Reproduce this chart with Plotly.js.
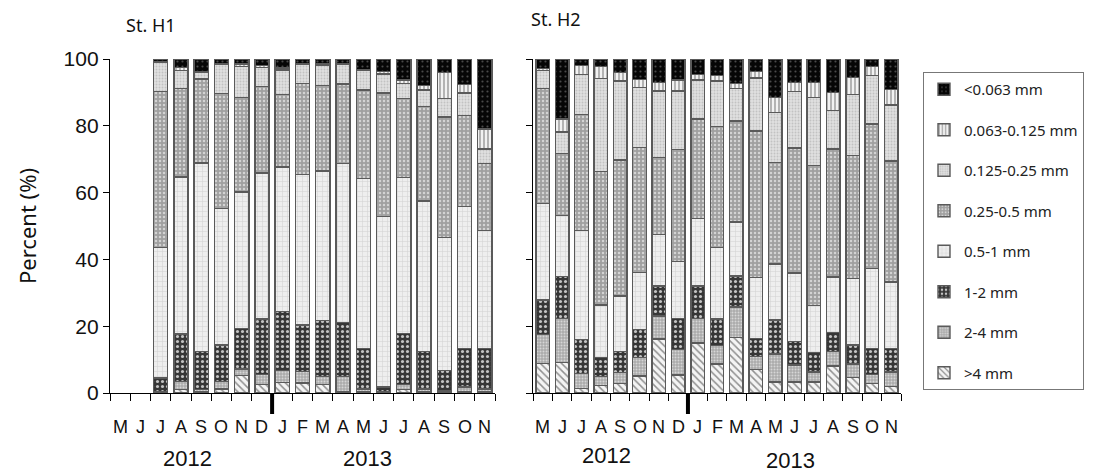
<!DOCTYPE html>
<html><head><meta charset="utf-8">
<script src="https://cdn.plot.ly/plotly-3.0.1.min.js"></script>
<style>html,body{margin:0;padding:0;background:#fff}#chart{width:1102px;height:472px}</style>
</head><body><div id="chart"></div>
<script>
const months = ["M","J","J","A","S","O","N","D","J","F","M","A","M","J","J","A","S","O","N"];
const years = ["2012","2013"];
const sizeClasses = [">4 mm","2-4 mm","1-2 mm","0.5-1 mm","0.25-0.5 mm","0.125-0.25 mm","0.063-0.125 mm","<0.063 mm"];

// St. H1 (May 2012 - Nov 2013), percent
const h1_gt4      = [null,null,0,1,0.5,1.2,5.2,2.5,3.2,3,2.5,0.5,0.5,0.3,1,0.5,0.3,0.5,0.5];
const h1_2_4      = [null,null,0.5,2.5,0.5,2.3,2,3,3.6,3.5,2.5,4.5,0.7,0.2,1.5,0.7,0.5,1.3,0.7];
const h1_1_2      = [null,null,4,14.2,11.4,10.9,12.2,16.6,17.6,13.9,16.7,16.1,12.2,1.3,15.4,11.2,6.0,11.6,12.2];
const h1_05_1     = [null,null,39.1,47,56.5,40.8,40.8,43.8,43.3,45,44.8,47.6,50.8,51.1,46.6,45.1,39.8,42.5,35.2];
const h1_025_05   = [null,null,46.7,26.5,25.1,34.4,28.2,25.8,21.7,27.3,25.5,23.8,26.5,36.9,23.6,28.3,36.0,27.2,20.1];
const h1_0125_025 = [null,null,8.7,5.3,2.0,8.7,9.4,5.8,7.3,5.6,6,5.8,5.8,5.7,4.6,4.9,5.5,6.7,4.4];
const h1_0063_0125= [null,null,0.3,1,0.3,0.4,0.7,0.5,0.6,0.4,0.5,0.2,0.3,0.8,1.0,1.3,7.9,2.5,6.0];
const h1_lt0063   = [null,null,0.7,2.5,3.7,1.3,1.5,2,2.7,1.3,1.5,1.5,3.2,3.7,6.3,8.0,4.0,7.7,20.9];

// St. H2 (May 2012 - Nov 2013), percent
const h2_gt4      = [8.9,9.1,1.3,2.3,2.8,5.1,16.2,5.4,15,8.7,16.7,7.0,3.3,3.3,3.3,8.1,4.6,2.8,2.0];
const h2_2_4      = [8.6,13.2,4.6,2.6,3.3,5.6,6.9,7.6,7.3,5.5,9.1,3.9,8.4,5.1,3.0,4.3,4.1,2.8,4.3];
const h2_1_2      = [10.4,12.6,10.1,5.8,6.3,8.3,8.9,9.3,9.7,7.9,9.2,5.4,10.1,7.0,5.8,5.7,5.7,7.8,7.1];
const h2_05_1     = [28.9,18.2,32.6,15.6,16.7,17,15.4,17,20.2,21.4,16.2,18.2,16.8,20.5,14.1,16.6,19.8,23.9,19.8];
const h2_025_05   = [34.3,18.6,34.7,40.0,40.7,37.5,23.2,33.6,29.8,36.3,30.2,44.0,30.5,37.4,41.9,38.4,36.9,43.3,36.3];
const h2_0125_025 = [5.4,6.5,12.1,27.8,23.6,17.9,19.8,17.5,11.7,13.6,9.8,15.8,14.8,16.9,20.3,11.5,18.3,14.4,16.7];
const h2_0063_0125= [0.7,3.8,2.6,3.7,2.6,2.5,2.5,3.3,1.7,1.7,1.4,2.0,4.5,2.7,4.5,5.3,5.1,2.7,4.7];
const h2_lt0063   = [2.8,18.0,2.0,2.2,4.0,6.1,7.1,6.3,4.6,4.9,7.4,3.7,11.6,7.1,7.1,10.1,5.5,2.3,9.1];

const h1 = [h1_gt4,h1_2_4,h1_1_2,h1_05_1,h1_025_05,h1_0125_025,h1_0063_0125,h1_lt0063];
const h2 = [h2_gt4,h2_2_4,h2_1_2,h2_05_1,h2_025_05,h2_0125_025,h2_0063_0125,h2_lt0063];

const styles = [
  {bg:'#f4f4f4', fg:'#909090', shape:'\\', size:5, sol:0.3},
  {bg:'#ababab', fg:'#d6d6d6', shape:'.', size:3, sol:0.35},
  {bg:'#363636', fg:'#c4c4c4', shape:'.', size:5, sol:0.3},
  {bg:'#eeeeee', fg:'#d2d2d2', shape:'+', size:5, sol:0.2},
  {bg:'#a0a0a0', fg:'#d4d4d4', shape:'.', size:4, sol:0.3},
  {bg:'#e0e0e0', fg:'#c2c2c2', shape:'.', size:3, sol:0.3},
  {bg:'#f2f2f2', fg:'#8a8a8a', shape:'|', size:4, sol:0.3},
  {bg:'#060606', fg:'#4a4a4a', shape:'.', size:5, sol:0.15}
];

const xs = months.map((m,i)=>i);
const traces = [];
function esc(s){return s.replace(/</g,'&lt;').replace(/>/g,'&gt;');}
[[h1,'x','y',true],[h2,'x2','y2',false]].forEach(([set,xa,ya,leg])=>{
  set.forEach((vals,k)=>{
    const st = styles[k];
    traces.push({
      type:'bar', x:xs, y:vals, xaxis:xa, yaxis:ya,
      name:esc(sizeClasses[k]), legendgroup:'g'+k, legendrank:100-k, showlegend:leg,
      marker:{color:st.bg, line:{color:'#5a5a5a', width:1.4},
        pattern:{shape:st.shape, bgcolor:st.bg, fgcolor:st.fg, size:st.size, solidity:st.sol, fillmode:'replace'}},
      hoverinfo:'name+y'
    });
  });
});

const W=1102, H=472;
const px = v=>v/W, py = v=>(H-v)/H;
const axBase = {
  range:[-0.5,18.5], tickmode:'array', tickvals:xs, ticktext:months, ticks:'', ticklen:0,
  showline:true, linecolor:'#000', linewidth:1.2, showgrid:false, zeroline:false,
  tickfont:{family:'Liberation Sans, Arial, sans-serif', size:18, color:'rgba(0,0,0,0)'},
  minor:{tickmode:'array', tickvals:xs.concat([18]).map(v=>v-0.5).concat([18.5]), ticks:'outside', ticklen:7, tickcolor:'#000', tickwidth:1, showgrid:false},
  automargin:false, fixedrange:true
};
const yBase = {
  range:[0,100], tickvals:[0,20,40,60,80,100], ticks:'outside', ticklen:6, tickcolor:'#000',
  showline:true, linecolor:'#000', linewidth:1.2, showgrid:false, zeroline:false, automargin:false, fixedrange:true,
  domain:[py(393), py(59)]
};

const txtFont = {family:'Noto Sans, Liberation Sans, sans-serif', color:'#111'};
const yearFont = {family:'Liberation Sans, Arial, sans-serif', size:22, color:'#111'};
const monthFont = {family:'Liberation Sans, Arial, sans-serif', size:18, color:'#111'};

const annotations = [
  {text:'St. H1', xref:'paper', yref:'paper', x:px(124), y:py(25), xanchor:'left', yanchor:'middle', showarrow:false,
   font:Object.assign({size:18}, txtFont)},
  {text:'St. H2', xref:'paper', yref:'paper', x:px(529), y:py(19), xanchor:'left', yanchor:'middle', showarrow:false,
   font:Object.assign({size:18}, txtFont)},
  {text:years[0], xref:'x', yref:'paper', x:3.3, y:py(458), yanchor:'middle', showarrow:false, font:yearFont},
  {text:years[1], xref:'x', yref:'paper', x:12.2, y:py(458), yanchor:'middle', showarrow:false, font:yearFont},
  {text:years[0], xref:'x2', yref:'paper', x:3.3, y:py(455), yanchor:'middle', showarrow:false, font:yearFont},
  {text:years[1], xref:'x2', yref:'paper', x:12.8, y:py(460), yanchor:'middle', showarrow:false, font:yearFont}
];
['x','x2'].forEach(xr=>{
  months.forEach((m,i)=>{
    annotations.push({text:m, xref:xr, yref:'paper', x:xs[i], y:py(427), xanchor:'center', yanchor:'middle',
      showarrow:false, font:monthFont});
  });
});

const layout = {
  width:W, height:H, margin:{l:0,r:0,t:0,b:0}, paper_bgcolor:'#fff', plot_bgcolor:'#fff',
  barmode:'stack', bargap:0.3, showlegend:true,
  xaxis:Object.assign({}, axBase, {domain:[px(110), px(495)], anchor:'y'}),
  xaxis2:Object.assign({}, axBase, {domain:[px(533), px(901)], anchor:'y2'}),
  yaxis:Object.assign({}, yBase, {anchor:'x', tickfont:{family:'Liberation Sans, Arial, sans-serif', size:21, color:'#111'},
    title:{text:'Percent (%)', font:Object.assign({size:22}, txtFont), standoff:20}}),
  yaxis2:Object.assign({}, yBase, {anchor:'x2', showticklabels:false}),
  legend:{x:px(923), y:py(72), xanchor:'left', yanchor:'top', traceorder:'grouped', tracegroupgap:18,
    bordercolor:'#777', borderwidth:1, bgcolor:'#fff',
    font:{family:'Noto Sans, Liberation Sans, sans-serif', size:15, color:'#222'}, itemwidth:30},
  annotations:annotations,
  shapes:[
    {type:'line', xref:'x domain', yref:'paper', x0:8/19, x1:8/19, y0:py(393), y1:py(414), line:{color:'#000', width:4}},
    {type:'line', xref:'x2 domain', yref:'paper', x0:8/19, x1:8/19, y0:py(393), y1:py(414), line:{color:'#000', width:4}}
  ]
};
Plotly.newPlot('chart', traces, layout, {staticPlot:true, displayModeBar:false});
</script></body></html>
